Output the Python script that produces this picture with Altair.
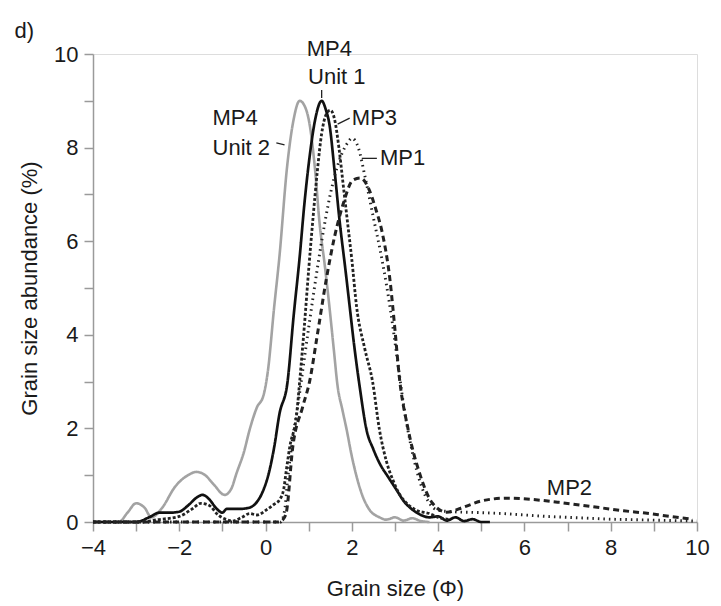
import altair as alt
import pandas as pd

# ---------------- data ----------------
unit2_x = [-4, -3.4, -3.2, -3.0, -2.8, -2.65, -2.4, -2.1, -1.8, -1.6, -1.4, -1.2, -0.95, -0.8, -0.67, -0.5,
           -0.37, -0.2, -0.05, 0.05, 0.2, 0.32, 0.5, 0.65, 0.79, 0.9, 1.02, 1.15, 1.25, 1.37, 1.48, 1.58,
           1.67, 1.78, 1.88, 2.0, 2.11, 2.25, 2.41, 2.64, 2.8, 3.0, 3.2, 3.4, 3.6, 3.8]
unit2_y = [0, 0, 0.2, 0.4, 0.3, 0.1, 0.3, 0.75, 1.0, 1.07, 1.0, 0.8, 0.58, 0.7, 1.05, 1.5,
           1.97, 2.45, 2.7, 3.2, 4.6, 5.66, 7.6, 8.6, 9.0, 8.9, 8.5, 7.5, 6.4, 5.5, 4.6, 3.7,
           2.9, 2.4, 1.97, 1.4, 0.97, 0.55, 0.26, 0.1, 0.05, 0.1, 0.03, 0.08, 0.02, 0.0]

unit1_x = [-4, -3.0, -2.7, -2.46, -2.2, -2.0, -1.8, -1.6, -1.46, -1.3, -1.15, -1.0, -0.9, -0.6, -0.4, -0.2,
           -0.07, 0.09, 0.2, 0.32, 0.51, 0.65, 0.79, 0.9, 1.02, 1.15, 1.3, 1.4, 1.48, 1.6, 1.72, 1.85,
           1.95, 2.05, 2.18, 2.34, 2.5, 2.64, 2.85, 3.04, 3.2, 3.41, 3.6, 3.8, 4.0, 4.2, 4.4, 4.6, 4.8, 5.0, 5.2]
unit1_y = [0, 0, 0.1, 0.2, 0.2, 0.22, 0.35, 0.52, 0.58, 0.48, 0.3, 0.2, 0.28, 0.28, 0.3, 0.43,
           0.64, 1.1, 1.6, 2.3, 3.0, 4.4, 5.66, 6.8, 7.8, 8.6, 9.0, 8.8, 8.5, 7.5, 6.4, 5.4,
           4.6, 3.8, 2.9, 1.97, 1.55, 1.26, 0.95, 0.68, 0.45, 0.26, 0.15, 0.1, 0.12, 0.03, 0.1, 0.02, 0.06, 0.0, 0.0]

mp3_x = [-4, -2.9, -2.5, -2.0, -1.7, -1.5, -1.3, -1.1, -0.9, -0.77, -0.55, -0.37, -0.2, 0.02, 0.2, 0.32,
         0.42, 0.48, 0.56, 0.72, 0.79, 0.9, 1.0, 1.1, 1.2, 1.3, 1.4, 1.5, 1.6, 1.7, 1.8, 1.9, 2.0, 2.11,
         2.3, 2.48, 2.64, 2.8, 2.95, 3.1, 3.27, 3.5, 3.8, 4.0, 4.3]
mp3_y = [0, 0, 0.05, 0.12, 0.28, 0.4, 0.35, 0.15, 0.05, 0.02, 0.1, 0.18, 0.15, 0.26, 0.38, 0.47,
         0.7, 1.1, 1.6, 2.3, 3.0, 4.2, 5.4, 6.5, 7.5, 8.3, 8.7, 8.8, 8.6, 8.0, 7.2, 6.4, 5.6, 4.6,
         3.7, 3.0, 1.97, 1.3, 0.9, 0.6, 0.4, 0.25, 0.18, 0.1, 0.05]

mp1_x = [-4, 0.35, 0.45, 0.5, 0.6, 0.75, 0.9, 1.1, 1.3, 1.5, 1.7, 1.9, 2.0, 2.15, 2.3, 2.5, 2.7, 2.9,
         3.05, 3.2, 3.4, 3.6, 3.8, 4.0, 4.3, 4.6, 5.0, 5.5, 6.0, 6.5, 7.0, 7.5, 8.0, 8.5, 9.0, 9.5, 10.0]
mp1_y = [0, 0, 0.3, 0.8, 1.6, 2.5, 3.5, 4.8, 6.0, 7.0, 7.7, 8.1, 8.2, 8.0, 7.4, 6.5, 5.6, 4.5,
         3.5, 2.5, 1.5, 0.8, 0.4, 0.25, 0.22, 0.21, 0.2, 0.18, 0.15, 0.12, 0.1, 0.08, 0.06, 0.05, 0.04, 0.03, 0.02]

mp2_x = [-4, 0.3, 0.4, 0.48, 0.63, 0.86, 1.02, 1.2, 1.41, 1.6, 1.8, 2.02, 2.2, 2.4, 2.55, 2.7, 2.88,
         3.0, 3.1, 3.3, 3.57, 3.87, 4.2, 4.6, 5.0, 5.6, 6.2, 6.8, 7.3, 7.8, 8.3, 8.8, 9.3, 9.9]
mp2_y = [0, 0, 0.05, 0.2, 1.6, 2.46, 3.0, 4.0, 5.2, 6.1, 6.8, 7.3, 7.35, 7.1, 6.7, 6.2, 5.2,
         4.1, 3.1, 2.0, 1.04, 0.4, 0.21, 0.32, 0.45, 0.51, 0.48, 0.42, 0.36, 0.3, 0.24, 0.19, 0.13, 0.06]

series_names = ["MP4 Unit 2", "MP4 Unit 1", "MP3", "MP1", "MP2"]
series_colors = ["#a3a3a3", "#111111", "#222222", "#222222", "#222222"]
series_widths = [2.6, 3.0, 1.3, 1.8, 1.5]
series_dashes = [[1, 0], [1, 0], [3, 2], [1.5, 4], [6, 4]]

# annotation labels (data coordinates)
label_text = ["MP4", "Unit 1", "MP4", "Unit 2", "MP3", "MP1", "MP2", "d)"]
label_x = [1.48, 1.65, -1.23, -1.23, 2.0, 2.65, 6.52, -5.82]
label_y = [10.1, 9.5, 8.63, 7.99, 8.63, 7.78, 0.73, 10.5]
label_align = ["center", "center", "left", "left", "left", "left", "left", "left"]

# pointer segments
ptr_x = [1.3, 0.25, 1.67, 2.23]
ptr_x2 = [1.3, 0.44, 1.95, 2.58]
ptr_y = [9.23, 8.1, 8.5, 7.77]
ptr_y2 = [9.06, 8.06, 8.63, 7.77]

# ---------------- tables ----------------
rows = []
for name, xs, ys in zip(series_names,
                        [unit2_x, unit1_x, mp3_x, mp1_x, mp2_x],
                        [unit2_y, unit1_y, mp3_y, mp1_y, mp2_y]):
    for i, (xv, yv) in enumerate(zip(xs, ys)):
        rows.append({"series": name, "x": xv, "y": yv, "order": i})
df = pd.DataFrame(rows)

labels = pd.DataFrame({"text": label_text, "x": label_x, "y": label_y, "align": label_align})
ptrs = pd.DataFrame({"x": ptr_x, "x2": ptr_x2, "y": ptr_y, "y2": ptr_y2})

FONT = "Liberation Sans"
FS = 22

xscale = alt.Scale(domain=[-4, 10], nice=False, zero=False)
yscale = alt.Scale(domain=[0, 10], nice=False)

common_axis = dict(
    grid=False, domainColor="#9a9a9a", tickColor="#9a9a9a", domainWidth=1.5, tickWidth=1.5,
    tickSize=9, labelFontSize=FS, titleFontSize=FS, labelFont=FONT, titleFont=FONT,
    titleFontWeight="normal", labelColor="#1a1a1a", titleColor="#1a1a1a",
    labelFlush=False, labelOverlap=False,
    labelExpr="datum.value % 2 == 0 ? datum.label : ''",
)

xaxis = alt.Axis(values=list(range(-4, 11)), title="Grain size (Φ)", labelPadding=6,
                 titlePadding=20, **common_axis)
yaxis = alt.Axis(values=list(range(0, 11)), title="Grain size abundance (%)", labelPadding=6,
                 titlePadding=12, **common_axis)

lines = alt.Chart(df).mark_line(interpolate="monotone").encode(
    x=alt.X("x:Q", scale=xscale, axis=xaxis),
    y=alt.Y("y:Q", scale=yscale, axis=yaxis),
    color=alt.Color("series:N", scale=alt.Scale(domain=series_names, range=series_colors), legend=None),
    strokeWidth=alt.StrokeWidth("series:N", scale=alt.Scale(domain=series_names, range=series_widths), legend=None),
    strokeDash=alt.StrokeDash("series:N", scale=alt.Scale(domain=series_names, range=series_dashes), legend=None),
    order="order:Q",
)

text_left = alt.Chart(labels[labels["align"] == "left"]).mark_text(
    align="left", baseline="middle", font=FONT, fontSize=FS, color="#1a1a1a"
).encode(x=alt.X("x:Q", scale=xscale), y=alt.Y("y:Q", scale=yscale), text="text:N")

text_center = alt.Chart(labels[labels["align"] == "center"]).mark_text(
    align="center", baseline="middle", font=FONT, fontSize=FS, color="#1a1a1a"
).encode(x=alt.X("x:Q", scale=xscale), y=alt.Y("y:Q", scale=yscale), text="text:N")

pointers = alt.Chart(ptrs).mark_rule(color="#222222", strokeWidth=1.3).encode(
    x=alt.X("x:Q", scale=xscale), x2="x2:Q",
    y=alt.Y("y:Q", scale=yscale), y2="y2:Q",
)

chart = alt.layer(lines, pointers, text_left, text_center).properties(
    width=604, height=468,
    padding={"left": 85, "top": 46, "right": 16, "bottom": 82},
    autosize=alt.AutoSizeParams(type="none"),
).configure_view(stroke=None).configure(background="white")

chart.save("out.html", embed_options={"renderer": "svg", "actions": False})
